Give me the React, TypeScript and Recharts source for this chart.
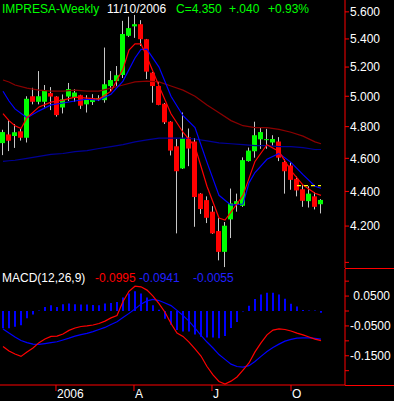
import React from 'react';
import { ComposedChart, Bar, Line, XAxis, YAxis } from 'recharts';

// weekly candles, IMPRESA
const opens = [
  4.695, 4.75, 4.74, 4.77, 4.729, 5.0, 4.963, 4.963, 5.021, 4.998,
  4.925, 4.998, 4.989, 5.007, 4.946, 4.961, 4.979, 4.974, 5.069, 5.103,
  5.145, 5.423, 5.492, 5.508, 5.398, 5.161, 5.069, 4.95, 4.832, 4.675,
  4.538, 4.731, 4.705, 4.387, 4.349, 4.282, 4.172, 4.057, 4.238, 4.326,
  4.316, 4.583, 4.644, 4.719, 4.715, 4.699, 4.705, 4.577, 4.556, 4.475,
  4.413, 4.343, 4.371, 4.325,
];
const highs = [
  4.78, 4.84, 4.817, 4.786, 5.0, 5.057, 5.172, 5.076, 5.062, 5.0,
  5.012, 5.09, 5.048, 5.01, 5.007, 5.014, 5.007, 5.338, 5.172, 5.207,
  5.533, 5.564, 5.577, 5.538, 5.4, 5.165, 5.097, 4.955, 4.835, 4.721,
  4.892, 4.788, 4.727, 4.39, 4.371, 4.314, 4.246, 4.223, 4.417, 4.387,
  4.606, 4.667, 4.832, 4.796, 4.786, 4.745, 4.733, 4.594, 4.575, 4.489,
  4.438, 4.431, 4.396, 4.355,
];
const lows = [
  4.62, 4.645, 4.665, 4.711, 4.699, 4.946, 4.946, 4.925, 4.908, 4.865,
  4.886, 4.968, 4.963, 4.916, 4.892, 4.942, 4.968, 4.957, 5.034, 5.07,
  5.124, 5.415, 5.408, 5.35, 5.117, 4.957, 4.94, 4.817, 4.618, 4.159,
  4.535, 4.552, 4.196, 4.269, 4.217, 4.156, 4.011, 3.975, 4.133, 4.282,
  4.31, 4.58, 4.604, 4.659, 4.659, 4.679, 4.583, 4.387, 4.41, 4.371,
  4.31, 4.306, 4.295, 4.272,
];
const closes = [
  4.765, 4.71, 4.764, 4.729, 4.983, 4.963, 5.0, 5.039, 4.998, 4.875,
  4.979, 5.048, 5.025, 4.937, 4.976, 4.987, 4.987, 5.081, 5.11, 5.143,
  5.436, 5.479, 5.508, 5.398, 5.168, 5.069, 4.942, 4.828, 4.648, 4.521,
  4.725, 4.661, 4.367, 4.297, 4.247, 4.159, 4.057, 4.202, 4.33, 4.343,
  4.589, 4.648, 4.745, 4.765, 4.72, 4.721, 4.604, 4.521, 4.469, 4.406,
  4.345, 4.387, 4.31, 4.35,
];

// moving averages (read where visible, gaps joined)
const maShort = [
  4.884, 4.839, 4.806, 4.788, 4.858, null, 4.929, null, 4.961, null,
  4.974, null, 4.994, null, 4.987, null, 4.981, null, 5.034, null,
  5.186, 5.32, 5.364, 5.364, 5.271, null, 5.069, null, 4.884, null,
  4.764, null, 4.673, null, 4.431, null, 4.246, 4.234, 4.28, null,
  4.377, null, 4.581, null, 4.685, null, 4.642, null, 4.525, null,
  4.438, null, 4.389, 4.377,
];
const maMid = [
  5.034, 4.968, 4.916, null, 4.858, null, 4.903, null, 4.942, null,
  4.955, null, 4.968, null, 4.981, null, 4.974, null, 5.014, null,
  5.103, null, 5.264, 5.325, 5.325, null, 5.2, null, 5.0, null,
  4.871, null, 4.794, null, 4.575, null, 4.377, null, 4.32, null,
  4.326, 4.451, 4.513, null, 4.594, null, 4.63, null, 4.575, null,
  4.5, null, 4.431, 4.419,
];
const maLong = [
  5.11, 5.097, 5.076, null, 5.055, null, 5.041, null, 5.034, null,
  5.034, null, 5.041, null, 5.034, null, 5.034, null, 5.055, null,
  5.076, null, 5.097, null, 5.103, null, 5.097, null, 5.069, null,
  5.041, null, 5.0, null, 4.942, null, 4.89, null, 4.839, null,
  4.806, null, 4.794, null, 4.794, null, 4.782, null, 4.764, null,
  4.739, null, 4.703, 4.691,
];
const maYear = [
  4.581, 4.585, 4.588, null, 4.6, null, 4.612, null, 4.624, null,
  4.63, null, 4.642, null, 4.648, null, 4.661, null, 4.673, null,
  4.685, null, 4.703, null, 4.715, null, 4.727, null, 4.727, null,
  4.727, null, 4.721, null, 4.709, null, 4.697, null, 4.691, null,
  4.685, null, 4.679, null, 4.679, null, 4.673, null, 4.673, null,
  4.667, null, 4.655, 4.655,
];
const stopFrom = 49;
const stopLevel = 4.435;

// MACD(12,26,9)
const macdLine = [
  -0.119, -0.134, -0.144, -0.152, -0.137, -0.124, -0.106, -0.094, -0.085, -0.084,
  -0.077, -0.065, -0.057, -0.052, -0.05, -0.047, -0.042, -0.034, -0.023, -0.015,
  0.032, 0.066, 0.083, 0.081, 0.07, 0.05, 0.025, -0.004, -0.042, -0.074,
  -0.085, -0.104, -0.127, -0.151, -0.186, -0.214, -0.236, -0.245, -0.235, -0.221,
  -0.198, -0.174, -0.137, -0.107, -0.08, -0.064, -0.06, -0.062, -0.067, -0.074,
  -0.08, -0.087, -0.094, -0.0995,
];
const signalLine = [
  -0.06, -0.074, -0.087, -0.099, -0.106, -0.111, -0.112, -0.109, -0.106, -0.103,
  -0.097, -0.091, -0.084, -0.079, -0.075, -0.069, -0.062, -0.055, -0.045, -0.036,
  -0.022, -0.008, 0.007, 0.023, 0.034, 0.039, 0.035, 0.027, 0.018, 0.002,
  -0.015, -0.034, -0.057, -0.082, -0.104, -0.124, -0.146, -0.162, -0.178, -0.186,
  -0.188, -0.183, -0.169, -0.152, -0.136, -0.122, -0.111, -0.101, -0.095, -0.091,
  -0.09, -0.09, -0.092, -0.0941,
];
const histogram = [
  -0.058, -0.058, -0.053, -0.048, -0.024, -0.012, 0.002, 0.013, 0.019, 0.013,
  0.023, 0.025, 0.023, 0.022, 0.022, 0.02, 0.019, 0.025, 0.027, 0.03,
  0.045, 0.059, 0.066, 0.059, 0.045, 0.019, 0.004, -0.026, -0.046, -0.064,
  -0.069, -0.069, -0.079, -0.086, -0.089, -0.089, -0.091, -0.084, -0.057, -0.037,
  -0.002, 0.018, 0.04, 0.055, 0.061, 0.061, 0.055, 0.041, 0.024, 0.015,
  0.003, 0.002, 0.002, -0.0055,
];

const monthTicks = [8.83, 21.83, 34.83, 48];
const monthLabels = ['2006', 'A', 'J', 'O'];
const priceTicks = [4.0, 4.2, 4.4, 4.6, 4.8, 5.0, 5.2, 5.4, 5.6];
const macdTicks = [0.1, 0.05, 0, -0.05, -0.1, -0.15, -0.2];
const macdLabelled = [0.05, -0.05, -0.15];

const rows = closes.map((c, i) => ({
  i,
  o: opens[i],
  h: highs[i],
  l: lows[i],
  c,
  ma1: maShort[i],
  ma2: maMid[i],
  ma3: maLong[i],
  ma4: maYear[i],
  stop: i >= stopFrom ? stopLevel : null,
  macd: macdLine[i],
  signal: signalLine[i],
  hist: histogram[i],
}));

const FONT = '"Liberation Sans", Arial, sans-serif';
const AXIS_RED = '#ff0000';

function Candle(props: any) {
  const { x, y, width, height, payload } = props;
  if (y == null || isNaN(y) || height == null) return null;
  const top = Math.min(y, y + height);
  const h = Math.abs(height);
  const cx = Math.round(x + width / 2);
  const lh = Math.log(payload.h);
  const ll = Math.log(payload.l);
  const span = lh - ll || 1;
  const toY = (v: number) => top + (h * (lh - Math.log(v))) / span;
  const yo = toY(payload.o);
  const yc = toY(payload.c);
  const up = payload.c >= payload.o;
  return (
    <g>
      <rect x={cx - 1} y={top} width={1} height={Math.max(h, 1)} fill="#c8c8c8" />
      <rect
        x={cx - 3}
        y={Math.min(yo, yc)}
        width={5}
        height={Math.max(Math.abs(yc - yo), 1)}
        fill={up ? '#00ff00' : '#ff0000'}
      />
    </g>
  );
}

const lineProps = { dot: false, activeDot: false, isAnimationActive: false, strokeWidth: 1.2 } as const;

export default function App() {
  const last = closes.length - 1;
  const chg = closes[last] - closes[last - 1];
  const pct = (chg / closes[last - 1]) * 100;
  const chgText = (chg >= 0 ? '+' : '-') + Math.abs(chg).toFixed(3).replace(/^0/, '');
  const pctText = (pct >= 0 ? '+' : '') + pct.toFixed(2) + '%';

  return (
    <div style={{ position: 'relative', width: 394, height: 401, background: '#000', overflow: 'hidden' }}>
      <style>{'body{margin:0;background:#000}'}</style>

      <ComposedChart width={394} height={269} data={rows} margin={{ top: 0, right: 0, left: 0, bottom: 1 }}>
        <XAxis type="number" dataKey="i" domain={[-0.5, 57]} allowDataOverflow hide />
        <YAxis
          orientation="right"
          width={49}
          scale="log"
          domain={[3.97, 5.69]}
          allowDataOverflow
          ticks={priceTicks}
          tickSize={4}
          tickMargin={1}
          tickFormatter={(v: number) => (Math.abs(v - 4) < 1e-9 ? '' : v.toFixed(3))}
          axisLine={{ stroke: AXIS_RED }}
          tickLine={{ stroke: AXIS_RED }}
          tick={{ fill: '#ffffff', fontSize: 12, fontFamily: FONT }}
        />
        <Bar dataKey={(d: any) => [d.l, d.h]} shape={<Candle />} isAnimationActive={false} />
        <Line dataKey="ma4" stroke="#000098" connectNulls {...lineProps} />
        <Line dataKey="ma3" stroke="#8b0000" connectNulls {...lineProps} />
        <Line dataKey="ma2" stroke="#0000ff" connectNulls {...lineProps} />
        <Line dataKey="ma1" stroke="#ff0000" connectNulls {...lineProps} />
        <Line dataKey="stop" stroke="#ffff00" strokeDasharray="4 3" {...lineProps} />
      </ComposedChart>

      <ComposedChart width={394} height={132} data={rows} margin={{ top: 0, right: 0, left: 0, bottom: 0 }}>
        <XAxis
          type="number"
          dataKey="i"
          domain={[-0.5, 57]}
          allowDataOverflow
          height={16}
          ticks={monthTicks}
          interval={0}
          tickSize={6}
          tickMargin={0}
          tickFormatter={(v: number) => monthLabels[monthTicks.indexOf(v)] ?? ''}
          axisLine={{ stroke: AXIS_RED }}
          tickLine={{ stroke: AXIS_RED }}
          tick={{ fill: '#ffffff', fontSize: 12, fontFamily: FONT, textAnchor: 'start', dx: 1, dy: -2 }}
        />
        <YAxis
          orientation="right"
          width={49}
          domain={[-0.2479, 0.1407]}
          allowDataOverflow
          ticks={macdTicks}
          interval={0}
          tickSize={4}
          tickMargin={1}
          tickFormatter={(v: number) =>
            macdLabelled.some((m) => Math.abs(m - v) < 1e-9) ? (v > 0 ? '\u00a0' : '') + v.toFixed(4) : ''
          }
          axisLine={{ stroke: AXIS_RED }}
          tickLine={{ stroke: AXIS_RED }}
          tick={{ fill: '#ffffff', fontSize: 12, fontFamily: FONT }}
        />
        <Bar dataKey="hist" barSize={2} fill="#0000ff" isAnimationActive={false} />
        <Line dataKey="signal" stroke="#0000ff" {...lineProps} />
        <Line dataKey="macd" stroke="#ff0000" {...lineProps} />
      </ComposedChart>

      {/* frame pieces under the value axis */}
      <div style={{ position: 'absolute', left: 345, top: 268, width: 49, height: 1, background: AXIS_RED }} />
      <div style={{ position: 'absolute', left: 345, top: 385, width: 49, height: 1, background: AXIS_RED }} />

      <svg width={394} height={401} style={{ position: 'absolute', left: 0, top: 0, pointerEvents: 'none' }}>
        <g fontFamily={FONT} fontSize={12}>
          <text x={2} y={12.5} fill="#00ff00">IMPRESA-Weekly</text>
          <text x={107} y={12.5} fill="#ffffff">11/10/2006</text>
          <text x={176} y={12.5} fill="#00ff00">{'C=' + closes[last].toFixed(3)}</text>
          <text x={229} y={12.5} fill="#00ff00">{chgText}</text>
          <text x={268} y={12.5} fill="#00ff00">{pctText}</text>
          <text x={2} y={282} fill="#ffffff">MACD(12,26,9)</text>
          <text x={95} y={282} fill="#ff0000">{macdLine[last].toFixed(4)}</text>
          <text x={139} y={282} fill="#2020ff">{signalLine[last].toFixed(4)}</text>
          <text x={193} y={282} fill="#2020ff">{histogram[last].toFixed(4)}</text>
        </g>
      </svg>
    </div>
  );
}
